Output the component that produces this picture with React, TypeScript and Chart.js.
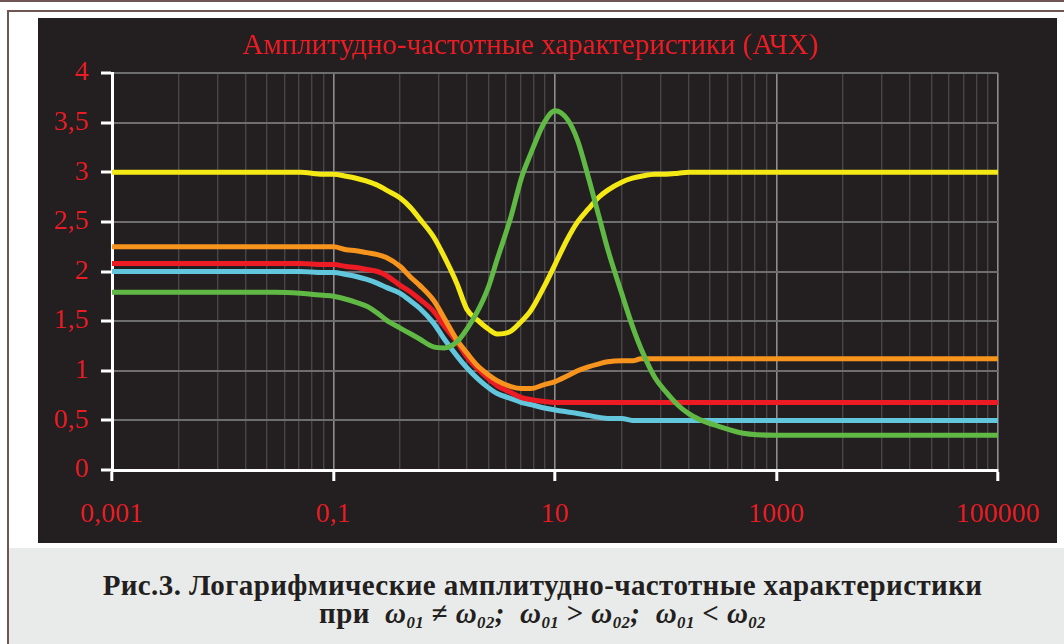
import React, { useEffect, useRef } from 'react';
import { Chart, registerables } from 'chart.js';

Chart.register(...registerables);

// Frequencies (x values, log axis)
const FREQ = [0.001, 0.01, 0.03, 0.05, 0.08, 0.1, 0.13, 0.16, 0.2, 0.25, 0.3, 0.4, 0.5, 0.6, 0.8, 1, 1.3, 1.6, 2, 2.5, 3, 4, 5, 6, 8, 10, 13, 16, 20, 25, 30, 40, 50, 60, 80, 100, 130, 160, 200, 300, 500, 1000, 10000, 100000];

// Series amplitudes
const YELLOW = [3.0, 3.0, 3.0, 3.0, 2.98, 2.98, 2.96, 2.94, 2.91, 2.87, 2.82, 2.74, 2.64, 2.53, 2.35, 2.15, 1.88, 1.62, 1.51, 1.42, 1.37, 1.4, 1.5, 1.6, 1.85, 2.07, 2.33, 2.5, 2.63, 2.75, 2.82, 2.9, 2.94, 2.96, 2.98, 2.98, 2.99, 3.0, 3.0, 3.0, 3.0, 3.0, 3.0, 3.0];
const ORANGE = [2.25, 2.25, 2.25, 2.25, 2.25, 2.25, 2.22, 2.21, 2.19, 2.17, 2.14, 2.05, 1.94, 1.86, 1.71, 1.53, 1.31, 1.18, 1.05, 0.96, 0.9, 0.84, 0.82, 0.82, 0.86, 0.89, 0.95, 1.0, 1.04, 1.07, 1.09, 1.1, 1.1, 1.12, 1.12, 1.12, 1.12, 1.12, 1.12, 1.12, 1.12, 1.12, 1.12, 1.12];
const RED = [2.08, 2.08, 2.08, 2.08, 2.07, 2.07, 2.05, 2.04, 2.02, 2.0, 1.96, 1.86, 1.79, 1.72, 1.6, 1.45, 1.29, 1.14, 1.02, 0.92, 0.85, 0.78, 0.73, 0.71, 0.69, 0.68, 0.68, 0.68, 0.68, 0.68, 0.68, 0.68, 0.68, 0.68, 0.68, 0.68, 0.68, 0.68, 0.68, 0.68, 0.68, 0.68, 0.68, 0.68];
const CYAN = [2.0, 2.0, 2.0, 2.0, 1.99, 1.99, 1.97, 1.95, 1.92, 1.88, 1.84, 1.78, 1.7, 1.63, 1.48, 1.32, 1.15, 1.03, 0.92, 0.83, 0.77, 0.72, 0.68, 0.66, 0.625, 0.605, 0.585, 0.57, 0.55, 0.53, 0.52, 0.52, 0.5, 0.5, 0.5, 0.5, 0.5, 0.5, 0.5, 0.5, 0.5, 0.5, 0.5, 0.5];
const GREEN = [1.79, 1.79, 1.79, 1.78, 1.76, 1.75, 1.72, 1.69, 1.65, 1.58, 1.51, 1.43, 1.37, 1.32, 1.24, 1.23, 1.29, 1.42, 1.6, 1.84, 2.12, 2.55, 2.95, 3.18, 3.5, 3.62, 3.53, 3.32, 2.95, 2.55, 2.22, 1.78, 1.45, 1.22, 0.93, 0.79, 0.65, 0.57, 0.51, 0.44, 0.37, 0.35, 0.35, 0.35];

// Axis tick labels
const X_MAJOR = [0.001, 0.1, 10, 1000, 100000];
const X_LABELS = ['0,001', '0,1', '10', '1000', '100000'];
const MINOR_STEPS = [2, 3, 4, 5, 6, 7, 8, 9];

const TITLE = 'Амплитудно-частотные характеристики (АЧХ)';
const CAPTION_1 = 'Рис.3. Логарифмические амплитудно-частотные характеристики';

const RED_TEXT = '#ec1c24';
const BROWN = '#6f5652';
const FONT = '"Liberation Serif", "Times New Roman", serif';

function isMajor(v: number | undefined) {
  return v !== undefined && X_MAJOR.indexOf(v) >= 0;
}

export default function App() {
  const ref = useRef<HTMLCanvasElement>(null);

  useEffect(() => {
    document.body.style.margin = '0';
    const mk = (label: string, vals: number[], color: string) => ({
      label,
      data: FREQ.map((f, i) => ({ x: f, y: vals[i] })),
      borderColor: color,
      backgroundColor: color,
      fill: false,
    });
    const chart = new Chart(ref.current as HTMLCanvasElement, {
      type: 'line',
      data: {
        datasets: [
          mk('green', GREEN, '#60b845'),
          mk('yellow', YELLOW, '#f4e914'),
          mk('orange', ORANGE, '#f7941e'),
          mk('red', RED, '#ed1c24'),
          mk('cyan', CYAN, '#62c6dc'),
        ],
      },
      options: {
        animation: false,
        responsive: false,
        devicePixelRatio: 1,
        layout: { padding: { left: 0, right: 55, top: 55, bottom: 0 } },
        plugins: {
          legend: { display: false },
          title: { display: false },
          tooltip: { enabled: false },
        },
        elements: {
          point: { radius: 0, hoverRadius: 0 },
          line: {
            borderWidth: 5,
            cubicInterpolationMode: 'monotone',
            borderCapStyle: 'round',
            borderJoinStyle: 'round',
          },
        },
        scales: {
          x: {
            type: 'logarithmic',
            min: 0.001,
            max: 100000,
            afterBuildTicks: (scale: any) => {
              const ticks: { value: number }[] = [];
              for (let i = 0; i < X_MAJOR.length; i++) {
                ticks.push({ value: X_MAJOR[i] });
                if (i < X_MAJOR.length - 1) {
                  for (const k of MINOR_STEPS) {
                    // minor lines placed at log10(k) fractions of each major interval
                    ticks.push({ value: X_MAJOR[i] * Math.pow(X_MAJOR[i + 1] / X_MAJOR[i], Math.log10(k)) });
                  }
                }
              }
              scale.ticks = ticks;
            },
            afterFit: (scale: any) => {
              scale.height = 73;
            },
            grid: {
              color: (c: any) => (isMajor(c.tick && c.tick.value) ? '#8c8c8c' : '#474546'),
              lineWidth: (c: any) => (isMajor(c.tick && c.tick.value) ? 1.6 : 1.4),
              tickColor: (c: any) => (isMajor(c.tick && c.tick.value) ? '#ffffff' : 'rgba(0,0,0,0)'),
              tickLength: 11,
              tickWidth: 3,
            },
            border: { color: '#ffffff', width: 3 },
            ticks: {
              autoSkip: false,
              maxRotation: 0,
              minRotation: 0,
              padding: 17,
              color: RED_TEXT,
              font: { family: FONT, size: 28 },
              callback: (v: any) => {
                const i = X_MAJOR.indexOf(Number(v));
                return i >= 0 ? X_LABELS[i] : '';
              },
            },
          },
          y: {
            type: 'linear',
            min: 0,
            max: 4,
            afterFit: (scale: any) => {
              scale.width = 74;
            },
            grid: {
              color: '#6e6e6e',
              lineWidth: 2,
              tickColor: '#ffffff',
              tickLength: 11,
              tickWidth: 3,
            },
            border: { color: '#ffffff', width: 3 },
            ticks: {
              stepSize: 0.5,
              padding: 12,
              color: RED_TEXT,
              font: { family: FONT, size: 28 },
              callback: (v: any) => String(v).replace('.', ','),
            },
          },
        },
      } as any,
    });
    return () => chart.destroy();
  }, []);

  const sub: React.CSSProperties = {
    fontSize: '58%',
    fontStyle: 'italic',
    position: 'relative',
    top: '0.32em',
    verticalAlign: 'baseline',
  };
  const om: React.CSSProperties = { fontStyle: 'italic' };

  return (
    <div
      style={{
        position: 'absolute',
        left: 0,
        top: 0,
        width: 1064,
        height: 644,
        background: '#ffffff',
        overflow: 'hidden',
        fontFamily: FONT,
      }}
    >
      <div style={{ position: 'absolute', left: 0, top: 0, width: 1064, height: 2, background: BROWN }} />
      <div style={{ position: 'absolute', left: 7, top: 10, width: 1057, height: 2, background: BROWN }} />
      <div style={{ position: 'absolute', left: 7, top: 10, width: 2, height: 634, background: BROWN }} />
      <div style={{ position: 'absolute', left: 38, top: 18, width: 1019, height: 525, background: '#231f20' }}>
        <canvas ref={ref} width={1019} height={525} style={{ display: 'block' }} />
      </div>
      <div
        style={{
          position: 'absolute',
          left: 0,
          top: 30,
          width: 1061,
          textAlign: 'center',
          fontSize: 29,
          lineHeight: '29px',
          color: RED_TEXT,
          whiteSpace: 'nowrap',
        }}
      >
        {TITLE}
      </div>
      <div style={{ position: 'absolute', left: 9, top: 548, width: 1055, height: 96, background: '#e9ebea' }} />
      <div
        style={{
          position: 'absolute',
          left: 21,
          top: 571,
          width: 1043,
          textAlign: 'center',
          fontSize: 29,
          lineHeight: '28px',
          letterSpacing: '0.4px',
          fontWeight: 'bold',
          color: '#231f20',
          whiteSpace: 'nowrap',
        }}
      >
        <div>{CAPTION_1}</div>
        <div>
          при&nbsp;&nbsp;<span style={om}>ω</span><span style={sub}>01</span> ≠ <span style={om}>ω</span>
          <span style={sub}>02</span><span style={om}>;</span>&nbsp;&nbsp;<span style={om}>ω</span>
          <span style={sub}>01</span> &gt; <span style={om}>ω</span><span style={sub}>02</span>
          <span style={om}>;</span>&nbsp;&nbsp;<span style={om}>ω</span><span style={sub}>01</span> &lt;{' '}
          <span style={om}>ω</span><span style={sub}>02</span>
        </div>
      </div>
    </div>
  );
}
